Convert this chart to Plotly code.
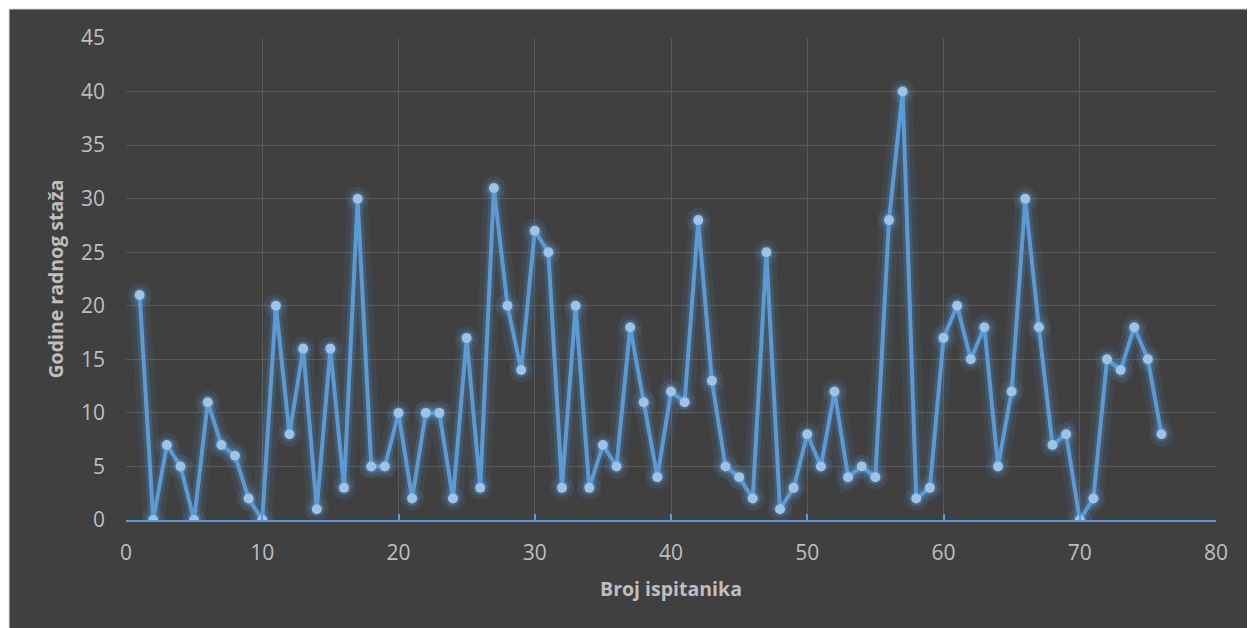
import plotly.graph_objects as go

respondents = list(range(1, 77))
years = [21, 0, 7, 5, 0, 11, 7, 6, 2, 0,
         20, 8, 16, 1, 16, 3, 30, 5, 5, 10,
         2, 10, 10, 2, 17, 3, 31, 20, 14, 27,
         25, 3, 20, 3, 7, 5, 18, 11, 4, 12,
         11, 28, 13, 5, 4, 2, 25, 1, 3, 8,
         5, 12, 4, 5, 4, 28, 40, 2, 3, 17,
         20, 15, 18, 5, 12, 30, 18, 7, 8, 0,
         2, 15, 14, 18, 15, 8]

x_title = "Broj ispitanika"
y_title = "Godine radnog staža"

BG = "#404040"
LINE = "#5B9BD5"
MARK = "#9DC3E6"
GRID = "#595959"
TXT = "#BFBFBF"
FONT = "Open Sans"

fig = go.Figure()
# glow layers
fig.add_trace(go.Scatter(x=respondents, y=years, mode="lines+markers",
                         line=dict(color="rgba(91,155,213,0.08)", width=20),
                         marker=dict(color="rgba(91,155,213,0.12)", size=24),
                         hoverinfo="skip", showlegend=False))
fig.add_trace(go.Scatter(x=respondents, y=years, mode="lines+markers",
                         line=dict(color="rgba(91,155,213,0.20)", width=10),
                         marker=dict(color="rgba(91,155,213,0.28)", size=15),
                         hoverinfo="skip", showlegend=False))
fig.add_trace(go.Scatter(x=respondents, y=years, mode="lines+markers",
                         line=dict(color=LINE, width=4),
                         marker=dict(color=MARK, size=10, line=dict(width=0)),
                         showlegend=False))

fig.add_shape(type="rect", xref="paper", yref="paper",
              x0=-0.1073, x1=1.06, y0=-0.26, y1=1.0602,
              fillcolor=BG, line=dict(color="#D9D9D9", width=1), layer="below")

fig.update_layout(
    width=1255, height=628,
    margin=dict(l=118, r=47, t=30, b=116),
    paper_bgcolor="white", plot_bgcolor=BG,
    font=dict(family=FONT, color=TXT, size=21),
    xaxis=dict(range=[0, 80], dtick=10, tick0=0, showgrid=True, gridcolor=GRID,
               gridwidth=1, zeroline=False, showline=True, linecolor=LINE, linewidth=2,
               ticks="inside", ticklen=6, tickcolor=LINE, tickwidth=2,
               tickfont=dict(family=FONT, size=21, color=TXT), ticklabelstandoff=13,
               title=dict(text="<b>" + x_title + "</b>", standoff=17,
                          font=dict(family=FONT, size=19.5, color=TXT)),
               mirror=False),
    yaxis=dict(range=[0, 45], dtick=5, tick0=0, showgrid=True, gridcolor=GRID,
               gridwidth=1, zeroline=False, showline=False, ticks="",
               tickfont=dict(family=FONT, size=21, color=TXT), ticklabelstandoff=20,
               title=dict(text="<b>" + y_title + "</b>", standoff=12,
                          font=dict(family=FONT, size=19.5, color=TXT))),
)

fig.write_html("out.html")
